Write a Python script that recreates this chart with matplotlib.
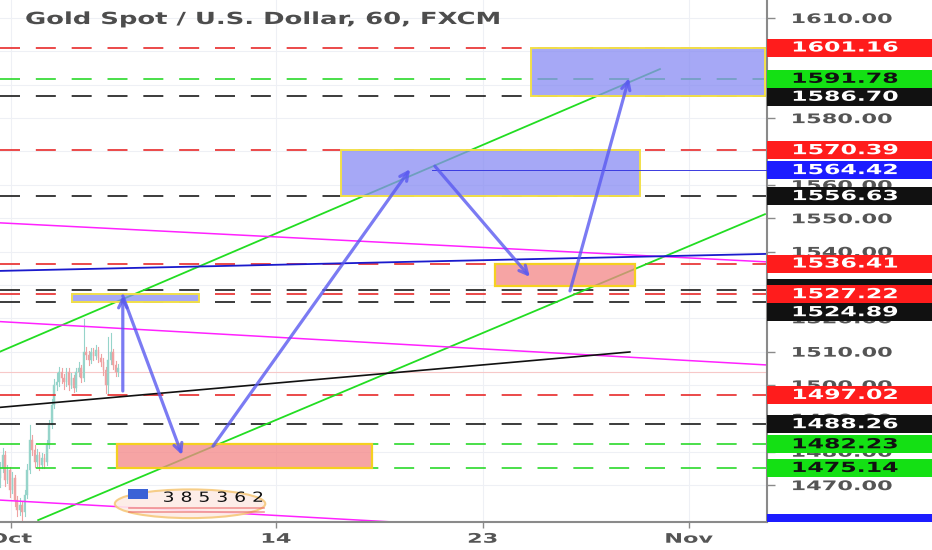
import numpy as np
import matplotlib
matplotlib.use('Agg')
import matplotlib.pyplot as plt
from matplotlib.patches import Rectangle, Ellipse
from matplotlib.patheffects import AbstractPathEffect
from matplotlib.transforms import Affine2D, blended_transform_factory

# x is in trading days from Oct 1, y is price (USD)
TITLE = "Gold Spot / U.S. Dollar, 60, FXCM"
x_ticks = [0, 9, 16, 23]
x_tick_labels = ['Oct', '14', '23', 'Nov']
y_ticks = list(range(1470, 1611, 10))

# 2-hour candles at the left edge of the chart
candle_start = -0.36
closes = [1475.1, 1479.0, 1471.5, 1474.5, 1468.5, 1472.1, 1465.5, 1462.5, 1464.0, 1461.9,
          1467.0, 1474.5, 1483.5, 1480.5, 1476.9, 1479.0, 1476.0, 1478.1, 1476.9, 1482.0,
          1488.0, 1494.0, 1500.0, 1500.9, 1503.9, 1502.1, 1500.9, 1503.9, 1500.0, 1502.1,
          1499.1, 1503.9, 1505.1, 1502.1, 1509.9, 1509.0, 1507.5, 1509.9, 1508.7, 1510.5,
          1508.1, 1506.9, 1504.5, 1500.0, 1507.5, 1509.9, 1506.0, 1503.9, 1505.1]
highs = [1477.0, 1481.0, 1480.2, 1476.0, 1475.5, 1473.8, 1473.0, 1466.8, 1466.0, 1465.2,
         1468.5, 1476.2, 1488.0, 1485.0, 1482.0, 1480.8, 1480.0, 1479.5, 1479.4, 1483.5,
         1489.5, 1495.8, 1501.8, 1503.5, 1505.5, 1505.0, 1503.2, 1505.2, 1505.0, 1503.6,
         1503.0, 1505.0, 1506.8, 1506.0, 1519.8, 1511.5, 1510.2, 1511.2, 1511.0, 1512.0,
         1511.4, 1509.2, 1508.0, 1505.4, 1514.4, 1515.6, 1510.8, 1507.2, 1506.4]
lows = [1469.5, 1474.0, 1469.8, 1470.5, 1466.5, 1467.5, 1463.8, 1460.6, 1461.0, 1459.5,
        1460.8, 1466.0, 1473.5, 1479.0, 1475.5, 1475.8, 1474.6, 1475.0, 1475.2, 1476.0,
        1481.0, 1487.0, 1493.0, 1498.6, 1499.8, 1500.6, 1498.9, 1499.8, 1498.5, 1499.0,
        1497.8, 1498.2, 1502.8, 1500.8, 1501.2, 1507.8, 1506.0, 1506.6, 1507.4, 1507.8,
        1507.0, 1505.6, 1503.0, 1497.6, 1497.3, 1506.4, 1504.8, 1502.6, 1502.8]
first_open = 1472.0

# horizontal levels (dashed)
level_prices = [1601.16, 1591.78, 1586.70, 1570.39, 1556.63, 1536.41, 1528.50,
                1527.22, 1524.89, 1497.02, 1488.26, 1482.23, 1475.14]
level_kinds = ['red', 'green', 'black', 'red', 'black', 'red', 'black',
               'red', 'black', 'red', 'black', 'green', 'green']

# price labels on the right scale
label_prices = [1601.16, 1591.78, 1586.70, 1570.39, 1564.42, 1556.63, 1536.41,
                1527.22, 1524.89, 1497.02, 1488.26, 1482.23, 1475.14]
label_kinds = ['red', 'green', 'black', 'red', 'blue', 'black', 'red',
               'red', 'black', 'red', 'black', 'green', 'green']
hidden_label = 1528.50
last_price = 1458.6
faint_price = 1504.0

# zones: (x0, x1, p_low, p_high)
blue_zones = [(17.63, 25.57, 1586.70, 1601.16),
              (11.19, 21.33, 1556.63, 1570.39),
              (2.08, 6.39, 1524.89, 1527.22)]
pink_zones = [(16.42, 21.16, 1529.70, 1536.41),
              (3.61, 12.25, 1475.14, 1482.23)]

# trend lines: (x0, p0, x1, p1, kind)
trend_lines = [(-0.36, 1510.0, 22.01, 1594.7, 'green'),
               (0.93, 1459.5, 25.57, 1551.2, 'green'),
               (-0.36, 1548.6, 25.64, 1536.9, 'magenta'),
               (-0.36, 1519.0, 25.64, 1506.0, 'magenta'),
               (-0.36, 1465.5, 25.64, 1452.7, 'magenta'),
               (-0.36, 1534.2, 25.64, 1539.3, 'navy'),
               (-0.36, 1493.3, 20.99, 1509.9, 'black'),
               (14.28, 1564.42, 25.64, 1564.42, 'thinblue')]

# projected path arrows: (x0, p0, x1, p1)
arrows = [(3.80, 1498.2, 3.80, 1526.7),
          (3.80, 1526.7, 5.81, 1479.0),
          (6.86, 1481.7, 13.54, 1564.7),
          (14.38, 1565.6, 17.60, 1532.4),
          (18.96, 1528.2, 20.96, 1592.0)]

COL = {'red': '#ff1c1c', 'green': '#14e014', 'black': '#111111', 'blue': '#1c1cff'}
DASH_COL = {'red': '#e82a2a', 'green': '#2bd92b', 'black': '#1a1a1a'}
LINE_COL = {'green': '#22dd22', 'magenta': '#ff22ff', 'navy': '#1a1acc',
            'black': '#111111', 'thinblue': '#3a3ae0'}
LINE_W = {'green': 1.3, 'magenta': 1.1, 'navy': 1.3, 'black': 1.2, 'thinblue': 0.7}


# the screenshot is stretched sideways, so the glyphs are widened too
class Stretch(AbstractPathEffect):
    def __init__(self, sx, anchor='center'):
        super().__init__()
        self.sx = sx
        self.anchor = anchor

    def draw_path(self, renderer, gc, tpath, affine, rgbFace=None):
        ext = tpath.get_extents()
        cx = 0.0 if self.anchor == 'left' else (ext.x0 + ext.x1) / 2
        st = Affine2D().translate(-cx, 0).scale(self.sx, 1).translate(cx, 0)
        renderer.draw_path(gc, tpath, st + affine, rgbFace)


fig = plt.figure(figsize=(9.32, 5.5), dpi=100)
ax = fig.add_axes([0, 0.0516, 0.823, 0.9484])
ax.set_xlim(-0.363, 25.64)
ax.set_ylim(1459.05, 1615.4)

for side in ['left', 'top']:
    ax.spines[side].set_visible(False)
for side in ['right', 'bottom']:
    ax.spines[side].set_color('#8a8a8a')
    ax.spines[side].set_linewidth(1.5)

ax.grid(True, color='#eef0f5', lw=0.8)
ax.set_axisbelow(True)

# candles
opens = [first_open] + closes[:-1]
cx = candle_start + np.arange(len(closes)) / 12
for x, o, c, hi, lo in zip(cx, opens, closes, highs, lows):
    col = '#96d4ca' if c >= o else '#efa2a2'
    ax.plot([x, x], [lo, hi], color=col, lw=0.8, zorder=2)
    ax.add_patch(Rectangle((x - 0.028, min(o, c)), 0.056, max(abs(c - o), 0.2),
                           facecolor=col, edgecolor=col, lw=0.3, zorder=2))

ax.axhline(faint_price, color='#f7c8c8', lw=0.8, zorder=1.5)

# dashed levels
for p, k in zip(level_prices, level_kinds):
    ax.axhline(p, color=DASH_COL[k], lw=1.2, dashes=(12, 9.5), zorder=2.2)

# trend lines (the thin blue one sits above the zones)
for x0, p0, x1, p1, k in trend_lines:
    ax.plot([x0, x1], [p0, p1], color=LINE_COL[k], lw=LINE_W[k],
            zorder=3 if k == 'thinblue' else 2.3)

# zones, semi-transparent over the lines
for x0, x1, lo, hi in blue_zones:
    ax.add_patch(Rectangle((x0, lo), x1 - x0, hi - lo, facecolor='#888bf3',
                           edgecolor='none', alpha=0.75, zorder=2.5))
    ax.add_patch(Rectangle((x0, lo), x1 - x0, hi - lo, facecolor='none',
                           edgecolor='#f2e04a', lw=1.4, zorder=2.6))
for x0, x1, lo, hi in pink_zones:
    ax.add_patch(Rectangle((x0, lo), x1 - x0, hi - lo, facecolor='#f48686',
                           edgecolor='none', alpha=0.75, zorder=2.5))
    ax.add_patch(Rectangle((x0, lo), x1 - x0, hi - lo, facecolor='none',
                           edgecolor='#f5d020', lw=1.6, zorder=2.6))

# arrows
for x0, p0, x1, p1 in arrows:
    ax.annotate('', xy=(x1, p1), xytext=(x0, p0),
                arrowprops=dict(arrowstyle='->', color='#5a5af0', lw=2.3, alpha=0.8,
                                mutation_scale=15, shrinkA=0, shrinkB=0),
                zorder=4)

# watermark badge at the bottom
ax.add_patch(Ellipse((6.08, 1464.4), 5.1, 8.6, facecolor='#fdebe6', edgecolor='#f6c97c',
                     lw=1.5, alpha=0.9, zorder=2.6))
ax.add_patch(Rectangle((3.98, 1465.9), 0.68, 3.0, facecolor='#3b62d6', edgecolor='none',
                       zorder=2.7))
for p in [1463.0, 1461.8]:
    ax.plot([4.0, 8.6], [p, p], color='#e85a5a', lw=1.2, alpha=0.6, zorder=2.7)
ax.text(5.15, 1466.2, '3 8 5 3 6 2', fontsize=10, color='#111111', va='center',
        ha='left', zorder=2.8, path_effects=[Stretch(1.35, 'left')])

# axes ticks
ax.yaxis.tick_right()
ax.set_yticks(y_ticks)
ax.set_yticklabels(['{:.2f}'.format(v) for v in y_ticks])
ax.tick_params(axis='y', length=6, width=1, color='#8a8a8a', pad=48,
               labelsize=9.5, labelcolor='#555555')
for lbl in ax.get_yticklabels():
    lbl.set_ha('center')
    lbl.set_fontweight('bold')
    lbl.set_path_effects([Stretch(1.7)])
ax.set_xticks(x_ticks)
ax.set_xticklabels(x_tick_labels)
ax.tick_params(axis='x', length=4, width=1, color='#8a8a8a', pad=4,
               labelsize=9.5, labelcolor='#555555')
for lbl in ax.get_xticklabels():
    lbl.set_fontweight('bold')
    lbl.set_path_effects([Stretch(1.7)])

# right-side price labels
ppu = ax.bbox.height / (1615.4 - 1459.05)
h = 18 / ppu
trans = blended_transform_factory(ax.transAxes, ax.transData)
right_end = 1.0 + 165 / 767
ax.add_patch(Rectangle((1.0, hidden_label - h / 2), right_end - 1.0, h + 0.6, transform=trans,
                       facecolor=COL['black'], edgecolor='none', clip_on=False, zorder=5))
prev = None
for p, k in sorted(zip(label_prices, label_kinds), reverse=True):
    d = p if prev is None else min(p, prev - h)
    prev = d
    ax.add_patch(Rectangle((1.0, d - h / 2), right_end - 1.0, h, transform=trans,
                           facecolor=COL[k], edgecolor='none', clip_on=False, zorder=6))
    ax.text(1.102, d, '{:.2f}'.format(p), transform=trans, ha='center', va='center',
            fontsize=10, fontweight='bold', color='#111111' if k == 'green' else 'white',
            clip_on=False, zorder=7, path_effects=[Stretch(1.7)])
ax.add_patch(Rectangle((1.0, 1459.05), right_end - 1.0, last_price + h / 2 - 1459.05,
                       transform=trans, facecolor=COL['blue'], edgecolor='none',
                       clip_on=False, zorder=6))

fig.text(25 / 932, 1 - 24 / 550, TITLE, fontsize=12, fontweight='bold',
         color='#4d4d4d', va='baseline', ha='left', path_effects=[Stretch(1.55, 'left')])

fig.savefig('out.png', dpi=100, facecolor='white')
